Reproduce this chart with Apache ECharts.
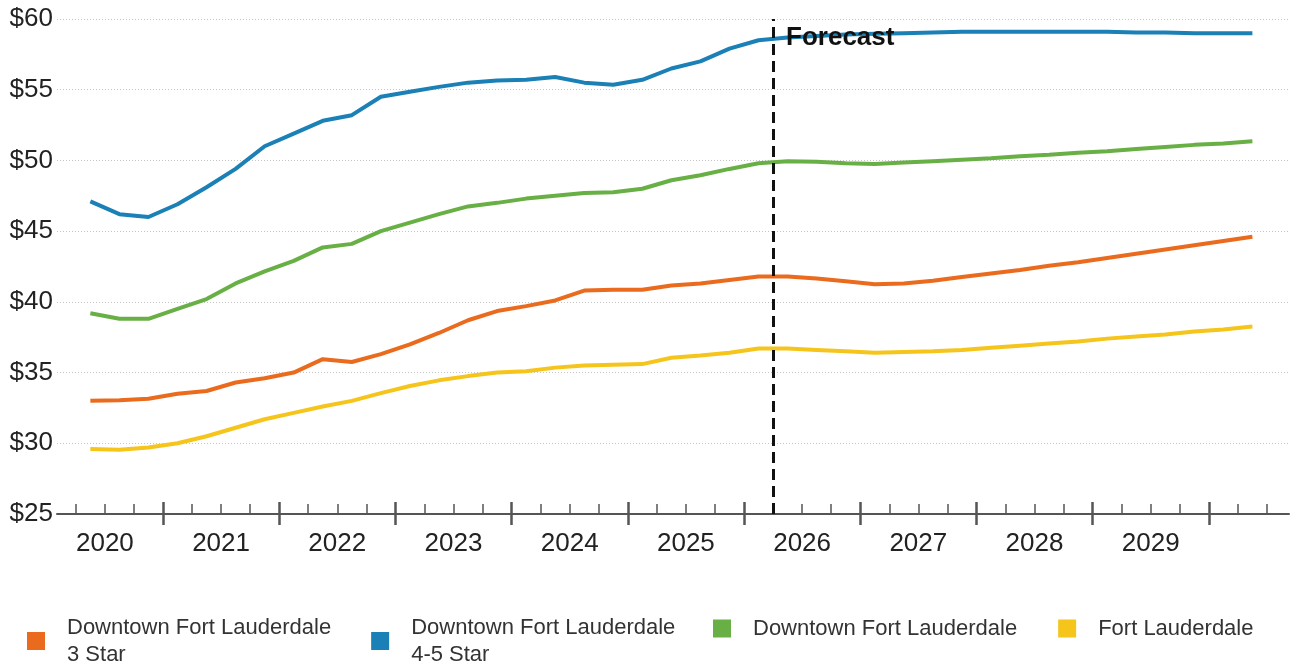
<!DOCTYPE html>
<html>
<head>
<meta charset="utf-8">
<script src="https://cdn.jsdelivr.net/npm/echarts@6/dist/echarts.min.js"></script>
<style>
  html, body { margin: 0; padding: 0; background: #fff; }
  #chart { width: 1294px; height: 663px; }
</style>
</head>
<body>
<div id="chart"></div>
<script>
// quarterly points, 2020 Q2 .. 2030 Q2
const quarters = []
for (let y = 2020; y <= 2030; y++) {
  for (let q = 1; q <= 4; q++) quarters.push(y + ' Q' + q)
}
const periods = quarters.slice(1, 42)

const yearLabels = ['2020', '2021', '2022', '2023', '2024', '2025', '2026', '2027', '2028', '2029']
const forecastStart = '2026 Q2'

const star3 = [
  33.0, 33.05, 33.15, 33.5, 33.7, 34.3, 34.6, 35.0, 35.95, 35.75,
  36.3, 37.0, 37.8, 38.7, 39.35, 39.7, 40.1, 40.8, 40.85, 40.85,
  41.15, 41.3, 41.55, 41.8, 41.8, 41.65, 41.45, 41.25, 41.3, 41.5,
  41.75, 42.0, 42.25, 42.55, 42.8, 43.1, 43.4, 43.7, 44.0, 44.3, 44.6,
]
const star45 = [
  47.1, 46.2, 46.0, 46.9, 48.1, 49.4, 51.0, 51.9, 52.8, 53.2,
  54.5, 54.85, 55.2, 55.5, 55.65, 55.7, 55.9, 55.5, 55.35, 55.7,
  56.5, 57.0, 57.9, 58.5, 58.7, 58.8, 58.9, 58.95, 59.0, 59.05,
  59.1, 59.1, 59.1, 59.1, 59.1, 59.1, 59.05, 59.05, 59.0, 59.0, 59.0,
]
const downtown = [
  39.2, 38.8, 38.8, 39.5, 40.2, 41.3, 42.15, 42.9, 43.85, 44.1,
  45.0, 45.6, 46.2, 46.75, 47.0, 47.3, 47.5, 47.7, 47.75, 48.0,
  48.6, 48.95, 49.4, 49.8, 49.95, 49.9, 49.8, 49.75, 49.85, 49.95,
  50.05, 50.15, 50.3, 50.4, 50.55, 50.65, 50.8, 50.95, 51.1, 51.2, 51.35,
]
const fortLauderdale = [
  29.6, 29.55, 29.7, 30.0, 30.5, 31.1, 31.7, 32.15, 32.6, 33.0,
  33.55, 34.05, 34.45, 34.75, 35.0, 35.1, 35.35, 35.5, 35.55, 35.6,
  36.05, 36.2, 36.4, 36.7, 36.7, 36.6, 36.5, 36.4, 36.45, 36.5,
  36.6, 36.75, 36.9, 37.05, 37.2, 37.4, 37.55, 37.7, 37.9, 38.05, 38.25,
]

const FONT = '"Liberation Sans", Arial, sans-serif'

// quarter label -> position on a year scale (start / middle of quarter)
function qStart(label) {
  const [y, q] = label.split(' Q')
  return +y + (q - 1) * 0.25
}
function qMid(label) {
  return qStart(label) + 0.125
}
function pairs(values) {
  return values.map((v, i) => [qMid(periods[i]), v])
}

const X_MIN = 2020.088
const X_MAX = 2030.69

// tick positions
const yearTicks = []
const quarterTicks = []
for (let y = 2020; y <= 2030; y++) {
  if (y > X_MIN && y < X_MAX) yearTicks.push(y)
  for (let q = 1; q < 4; q++) {
    const v = y + q * 0.25
    if (v > X_MIN && v < X_MAX) quarterTicks.push(v)
  }
}
const labelPos = yearLabels.map((y) => +y + 0.5)

const baseX = {
  type: 'value',
  position: 'bottom',
  min: X_MIN,
  max: X_MAX,
  splitLine: { show: false },
  axisLine: { show: false },
  axisLabel: { show: false },
}

const series = [
  { name: 'Downtown Fort Lauderdale\n3 Star', color: '#ea6b1e', data: star3 },
  { name: 'Downtown Fort Lauderdale\n4-5 Star', color: '#1a80b6', data: star45 },
  { name: 'Downtown Fort Lauderdale', color: '#68b045', data: downtown },
  { name: 'Fort Lauderdale', color: '#f5c51b', data: fortLauderdale },
].map((s) => ({
  name: s.name,
  type: 'line',
  xAxisIndex: 0,
  showSymbol: false,
  symbol: 'none',
  color: s.color,
  lineStyle: { color: s.color, width: 4 },
  data: pairs(s.data),
}))

// forecast divider + label
series[0].markLine = {
  silent: true,
  symbol: ['none', 'none'],
  label: { show: false },
  lineStyle: { color: '#111', width: 3, type: [11, 6] },
  data: [{ xAxis: qStart(forecastStart) }],
}
series[3].markPoint = {
  silent: true,
  symbol: 'rect',
  symbolSize: 0,
  z: 10,
  label: {
    show: true,
    position: 'right',
    distance: 13,
    formatter: 'Forecast',
    fontFamily: FONT,
    fontWeight: 'bold',
    fontSize: 26,
    color: '#111',
  },
  data: [{ coord: [qStart(forecastStart), 58.7] }],
}

const legendText = {
  fontFamily: FONT,
  fontSize: 22,
  lineHeight: 27,
  color: '#333',
  padding: [0, 0, 0, 17],
}

const option = {
  animation: false,
  backgroundColor: '#fff',
  grid: {
    left: 57,
    right: 5,
    top: 19,
    bottom: 149,
  },
  legend: [
    {
      data: [series[0].name, series[1].name],
      left: 27,
      top: 614,
      padding: 0,
      itemGap: 40,
      itemWidth: 18,
      itemHeight: 18,
      icon: 'rect',
      textStyle: legendText,
    },
    {
      data: [series[2].name, series[3].name],
      left: 713,
      top: 615,
      padding: 0,
      itemGap: 41,
      itemWidth: 18,
      itemHeight: 18,
      icon: 'rect',
      textStyle: legendText,
    },
  ],
  xAxis: [
    {
      ...baseX,
      axisLine: { show: true, lineStyle: { color: '#555', width: 2 } },
      axisTick: {
        show: true,
        inside: true,
        length: 10,
        customValues: quarterTicks,
        lineStyle: { color: '#555', width: 1.5 },
      },
      axisLabel: {
        show: true,
        customValues: labelPos,
        formatter: (v) => String(Math.floor(v)),
        margin: 17,
        fontFamily: FONT,
        fontSize: 26,
        color: '#222',
      },
    },
    // year ticks, crossing the axis line
    {
      ...baseX,
      axisTick: {
        show: true,
        inside: true,
        length: 12,
        customValues: yearTicks,
        lineStyle: { color: '#555', width: 2.5 },
      },
    },
    {
      ...baseX,
      axisTick: {
        show: true,
        inside: false,
        length: 11,
        customValues: yearTicks,
        lineStyle: { color: '#555', width: 2.5 },
      },
    },
  ],
  yAxis: {
    type: 'value',
    min: 25,
    max: 60,
    interval: 5,
    axisLine: { show: false },
    axisTick: { show: false },
    axisLabel: {
      margin: 4,
      formatter: '${value}',
      fontFamily: FONT,
      fontSize: 26,
      color: '#222',
    },
    splitLine: {
      show: true,
      lineStyle: { color: '#c4c4c4', width: 1, type: [1, 2] },
    },
  },
  series,
}

const chart = echarts.init(document.getElementById('chart'), null, { renderer: 'canvas' })
chart.setOption(option)
</script>
</body>
</html>
